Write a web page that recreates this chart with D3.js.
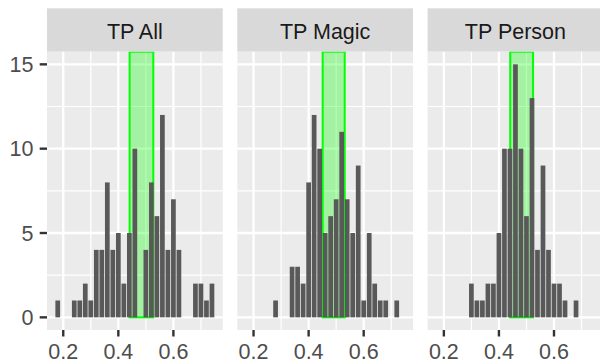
<!DOCTYPE html>
<html>
<head>
<meta charset="utf-8">
<script src="https://cdn.jsdelivr.net/npm/d3@7"></script>
<style>
  body { margin: 0; background: #fff; }
  svg { display: block; font-family: "Liberation Sans", Arial, sans-serif; }
</style>
</head>
<body>
<div id="chart"></div>
<script>
/* Daten: Histogramm-Klassen (Mitte) und Häufigkeiten je Panel */
var binCenters = [0.18,0.20,0.22,0.24,0.26,0.28,0.30,0.32,0.34,0.36,0.38,0.40,0.42,0.44,0.46,
                  0.48,0.50,0.52,0.54,0.56,0.58,0.60,0.62,0.64,0.66,0.68,0.70,0.72,0.74];
var binWidth = 0.02;
var panelNames = ["TP All", "TP Magic", "TP Person"];
var countsAll    = [1,0,0,1,1,2,1,4,4,8,4,5,2,5,10,0,4,8,6,12,4,7,4,0,0,2,2,1,2];
var countsMagic  = [0,0,0,0,0,1,0,0,3,3,2,8,12,10,5,6,7,11,7,5,9,1,5,2,1,1,0,1,0];
var countsPerson = [0,0,0,0,0,0,2,1,1,2,2,5,10,10,15,10,6,13,4,9,4,2,2,1,0,1,0,0,0];
/* grüner Bereich je Panel (xmin, xmax) */
var bandMin = [0.441, 0.451, 0.441];
var bandMax = [0.527, 0.531, 0.524];
var xTicks = [0.2, 0.4, 0.6];
var xMinor = [0.3, 0.5, 0.7];
var yTicks = [0, 5, 10, 15];
var yMinor = [2.5, 7.5, 12.5];

var allCounts = [countsAll, countsMagic, countsPerson];

/* Layout */
var W = 600, H = 362;
var left = 47, panelW = 175.7, gapW = 14.6;
var stripTop = 8.3, stripH = 43.4;
var panelTop = stripTop + stripH, panelBottom = 330;
var fontSize = "21.5px";

var svg = d3.select("#chart").append("svg").attr("width", W).attr("height", H);
svg.append("rect").attr("width", W).attr("height", H).attr("fill", "white");

/* Skalen (ggplot: 5% Erweiterung) */
var xLo = binCenters[0] - binWidth / 2, xHi = binCenters[binCenters.length - 1] + binWidth / 2;
var xPad = (xHi - xLo) * 0.05;
var yMax = d3.max(allCounts, function(c) { return d3.max(c); });
var yPad = yMax * 0.05;
var x = d3.scaleLinear().domain([xLo - xPad, xHi + xPad]).range([0, panelW]);
var y = d3.scaleLinear().domain([-yPad, yMax + yPad]).range([panelBottom, panelTop]);

var defs = svg.append("defs");

panelNames.forEach(function(name, p) {
  var g = svg.append("g").attr("transform", "translate(" + (left + p * (panelW + gapW)) + ",0)");

  defs.append("clipPath").attr("id", "clip" + p).append("rect")
    .attr("x", 0).attr("y", panelTop).attr("width", panelW).attr("height", panelBottom - panelTop);

  /* Streifen */
  g.append("rect").attr("x", 0).attr("y", stripTop).attr("width", panelW).attr("height", stripH).attr("fill", "#d9d9d9");
  g.append("text").attr("x", panelW / 2).attr("y", stripTop + 31)
    .attr("text-anchor", "middle").attr("font-size", fontSize).attr("fill", "#1a1a1a").text(name);

  /* Hintergrund und Gitter */
  g.append("rect").attr("x", 0).attr("y", panelTop).attr("width", panelW).attr("height", panelBottom - panelTop).attr("fill", "#ebebeb");
  var grid = g.append("g").attr("stroke", "white");
  grid.selectAll(".ymin").data(yMinor).enter().append("line")
    .attr("x1", 0).attr("x2", panelW).attr("y1", y).attr("y2", y).attr("stroke-width", 1.2);
  grid.selectAll(".xmin").data(xMinor).enter().append("line")
    .attr("x1", x).attr("x2", x).attr("y1", panelTop).attr("y2", panelBottom).attr("stroke-width", 1.2);
  grid.selectAll(".ymaj").data(yTicks).enter().append("line")
    .attr("x1", 0).attr("x2", panelW).attr("y1", y).attr("y2", y).attr("stroke-width", 2.3);
  grid.selectAll(".xmaj").data(xTicks).enter().append("line")
    .attr("x1", x).attr("x2", x).attr("y1", panelTop).attr("y2", panelBottom).attr("stroke-width", 2.3);

  var inner = g.append("g").attr("clip-path", "url(#clip" + p + ")");

  /* grüner Bereich (ymax = Inf) */
  inner.append("rect")
    .attr("x", x(bandMin[p])).attr("width", x(bandMax[p]) - x(bandMin[p]))
    .attr("y", panelTop).attr("height", y(0) - panelTop)
    .attr("fill", "#00ff00").attr("fill-opacity", 0.3)
    .attr("stroke", "#00ff00").attr("stroke-width", 2);

  /* Balken */
  var bins = binCenters.map(function(c, i) { return {c: c, n: allCounts[p][i]}; }).filter(function(d) { return d.n > 0; });
  inner.selectAll(".bar").data(bins).enter().append("rect")
    .attr("x", function(d) { return x(d.c - binWidth / 2) + 0.4; })
    .attr("width", function(d) { return x(d.c + binWidth / 2) - x(d.c - binWidth / 2) - 0.8; })
    .attr("y", function(d) { return y(d.n); })
    .attr("height", function(d) { return y(0) - y(d.n); })
    .attr("fill", "#595959");

  /* x-Achse */
  var xa = g.append("g");
  xa.selectAll("line").data(xTicks).enter().append("line")
    .attr("x1", x).attr("x2", x).attr("y1", panelBottom).attr("y2", panelBottom + 6.5)
    .attr("stroke", "#333333").attr("stroke-width", 2.4);
  xa.selectAll("text").data(xTicks).enter().append("text")
    .attr("x", x).attr("y", panelBottom + 28.5).attr("text-anchor", "middle")
    .attr("font-size", fontSize).attr("fill", "#4d4d4d").text(d3.format(".1f"));

  /* y-Achse nur links */
  if (p === 0) {
    var ya = g.append("g");
    ya.selectAll("line").data(yTicks).enter().append("line")
      .attr("x1", -7.3).attr("x2", 0).attr("y1", y).attr("y2", y)
      .attr("stroke", "#333333").attr("stroke-width", 2.4);
    ya.selectAll("text").data(yTicks).enter().append("text")
      .attr("x", -13.5).attr("y", y).attr("dy", "0.36em").attr("text-anchor", "end")
      .attr("font-size", fontSize).attr("fill", "#4d4d4d").text(function(d) { return d; });
  }
});
</script>
</body>
</html>
